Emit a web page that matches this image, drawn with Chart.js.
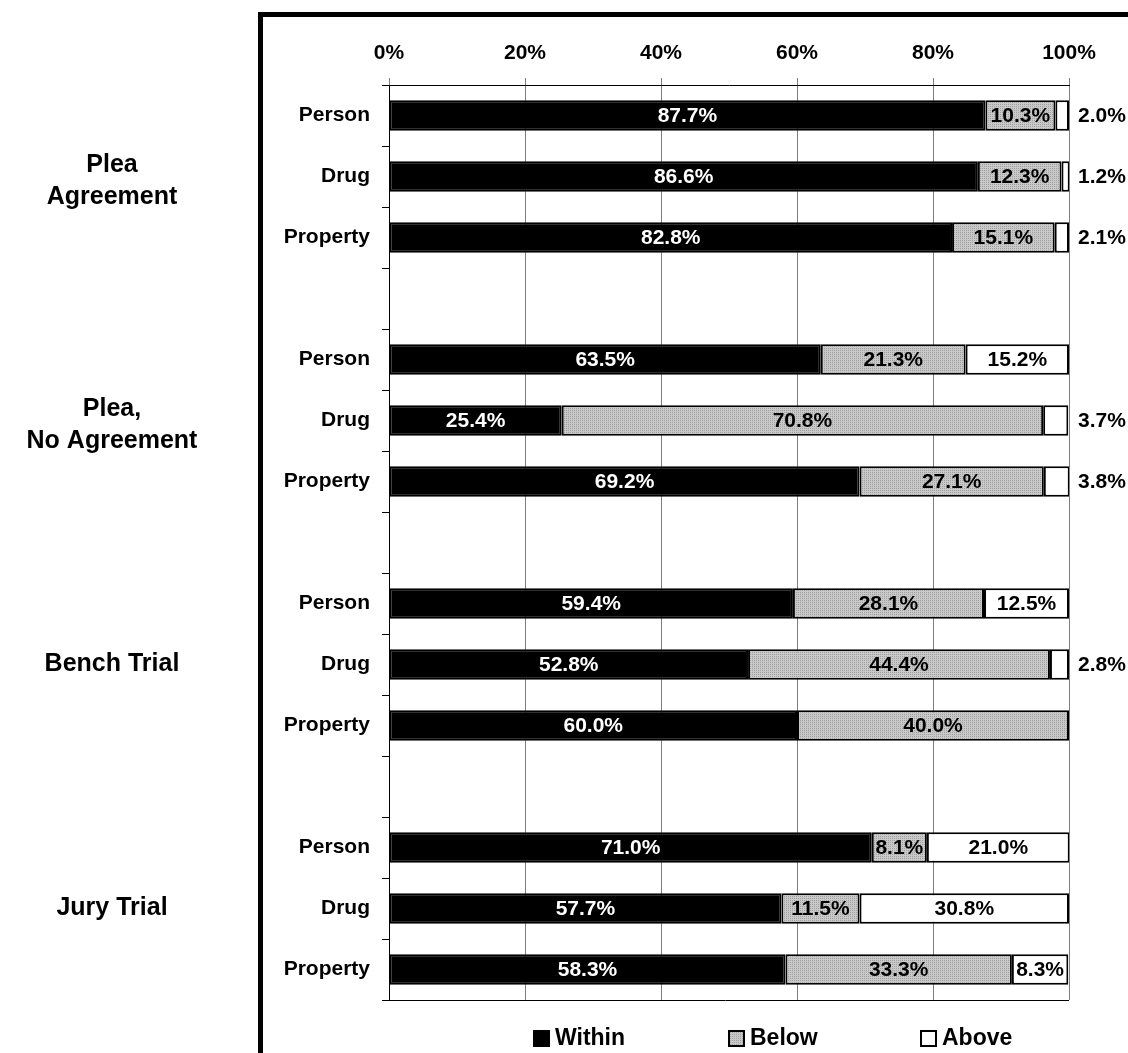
<!DOCTYPE html>
<html>
<head>
<meta charset="utf-8">
<script src="https://cdn.jsdelivr.net/npm/chart.js@4/dist/chart.umd.min.js"></script>
<style>
  html, body { margin: 0; padding: 0; background: #fff; }
  #wrap { width: 1128px; height: 1053px; }
</style>
</head>
<body>
<div id="wrap"><canvas id="sentChart" width="1128" height="1053"></canvas></div>
<script>
// categories (blank rows separate the groups)
const categories = [
  'Person', 'Drug', 'Property', '',
  'Person', 'Drug', 'Property', '',
  'Person', 'Drug', 'Property', '',
  'Person', 'Drug', 'Property'
];
const groupLabels = [['Plea', 'Agreement'], ['Plea,', 'No Agreement'], ['Bench Trial'], ['Jury Trial']];
const groupRows = [1, 5, 9, 13];

const withinVals = [87.7, 86.6, 82.8, null, 63.5, 25.4, 69.2, null, 59.4, 52.8, 60.0, null, 71.0, 57.7, 58.3];
const belowVals  = [10.3, 12.3, 15.1, null, 21.3, 70.8, 27.1, null, 28.1, 44.4, 40.0, null, 8.1, 11.5, 33.3];
const aboveVals  = [2.0, 1.2, 2.1, null, 15.2, 3.7, 3.8, null, 12.5, 2.8, 0, null, 21.0, 30.8, 8.3];

const xTicks = [0, 20, 40, 60, 80, 100];

const FONT = '"Liberation Sans", Arial, sans-serif';

// gris pointillé
function makeStipple() {
  const c = document.createElement('canvas');
  c.width = 2; c.height = 2;
  const g = c.getContext('2d');
  g.fillStyle = '#c9c9c9';
  g.fillRect(0, 0, 2, 2);
  g.fillStyle = '#a0a0a0';
  g.fillRect(0, 0, 1, 1);
  return g.createPattern(c, 'repeat');
}
const stipple = makeStipple();

const decorPlugin = {
  id: 'decor',
  afterDraw: (chart) => {
    const ctx = chart.ctx;
    const area = chart.chartArea;
    const y = chart.scales.y;

    ctx.save();
    // outer frame
    ctx.lineWidth = 5;
    ctx.strokeStyle = '#000';
    ctx.strokeRect(260.5, 14.5, 1000, 1200);

    // bottom axis line
    ctx.lineWidth = 1;
    ctx.beginPath();
    ctx.moveTo(area.left - 7, Math.round(area.bottom) + 0.5);
    ctx.lineTo(area.right, Math.round(area.bottom) + 0.5);
    ctx.stroke();

    // group labels
    ctx.fillStyle = '#000';
    ctx.font = 'bold 25px ' + FONT;
    ctx.textAlign = 'center';
    ctx.textBaseline = 'middle';
    groupLabels.forEach((lines, i) => {
      const cy = y.getPixelForValue(groupRows[i]) + (lines.length > 1 ? 5 : 0);
      const lh = 32;
      lines.forEach((t, j) => {
        ctx.fillText(t, 112, cy + (j - (lines.length - 1) / 2) * lh);
      });
    });

    // legend
    const legendX = [533, 728, 920];
    const ly = 1038;
    ctx.font = 'bold 23px ' + FONT;
    ctx.textAlign = 'left';
    chart.data.datasets.forEach((ds, i) => {
      const x = legendX[i];
      ctx.fillStyle = ds.backgroundColor;
      ctx.fillRect(x, ly - 8, 17, 17);
      ctx.lineWidth = 2;
      ctx.strokeStyle = '#000';
      ctx.strokeRect(x + 1, ly - 7, 15, 15);
      ctx.fillStyle = '#000';
      ctx.fillText(ds.label, x + 22, ly + 1);
    });
    ctx.restore();
  },
  afterDatasetsDraw: (chart) => {
    const ctx = chart.ctx;
    const area = chart.chartArea;
    ctx.save();
    ctx.font = 'bold 21px ' + FONT;
    ctx.textBaseline = 'middle';
    chart.data.datasets.forEach((ds, di) => {
      const meta = chart.getDatasetMeta(di);
      meta.data.forEach((bar, i) => {
        const v = ds.data[i];
        if (v === null || v === 0) return;
        const txt = v.toFixed(1) + '%';
        const cx = (bar.x + bar.base) / 2;
        if (di === 2 && v < 5) {
          ctx.textAlign = 'left';
          ctx.fillStyle = '#000';
          ctx.fillText(txt, area.right + 9, bar.y + 1);
        } else {
          ctx.textAlign = 'center';
          ctx.fillStyle = di === 0 ? '#fff' : '#000';
          ctx.fillText(txt, cx, bar.y + 1);
        }
      });
    });
    ctx.restore();
  }
};

const ctx = document.getElementById('sentChart').getContext('2d');
new Chart(ctx, {
  type: 'bar',
  data: {
    labels: categories,
    datasets: [
      { label: 'Within', data: withinVals, backgroundColor: '#000' },
      { label: 'Below', data: belowVals, backgroundColor: stipple },
      { label: 'Above', data: aboveVals, backgroundColor: '#fff' }
    ]
  },
  options: {
    indexAxis: 'y',
    responsive: false,
    animation: false,
    layout: { padding: { left: 0, top: 0, right: 59, bottom: 53 } },
    datasets: {
      bar: {
        borderColor: '#000',
        borderWidth: 2,
        borderSkipped: false,
        barPercentage: 0.5,
        categoryPercentage: 1
      }
    },
    plugins: {
      legend: { display: false },
      tooltip: { enabled: false }
    },
    scales: {
      x: {
        position: 'top',
        stacked: true,
        min: 0,
        max: 100,
        afterFit: (s) => { s.height = 85; },
        afterBuildTicks: (s) => { s.ticks = xTicks.map(v => ({ value: v })); },
        ticks: {
          color: '#000',
          padding: 12,
          font: { family: FONT, size: 21, weight: 'bold' },
          callback: (v) => v + '%'
        },
        grid: { color: '#7f7f7f', lineWidth: 1, tickLength: 7 },
        border: { color: '#000', width: 1 }
      },
      y: {
        stacked: true,
        afterFit: (s) => { s.width = 389; },
        ticks: {
          color: '#000',
          padding: 12,
          font: { family: FONT, size: 21, weight: 'bold' }
        },
        grid: { drawOnChartArea: false, color: '#000', tickLength: 7, offset: true },
        border: { color: '#000', width: 1 }
      }
    }
  },
  plugins: [decorPlugin]
});
</script>
</body>
</html>
